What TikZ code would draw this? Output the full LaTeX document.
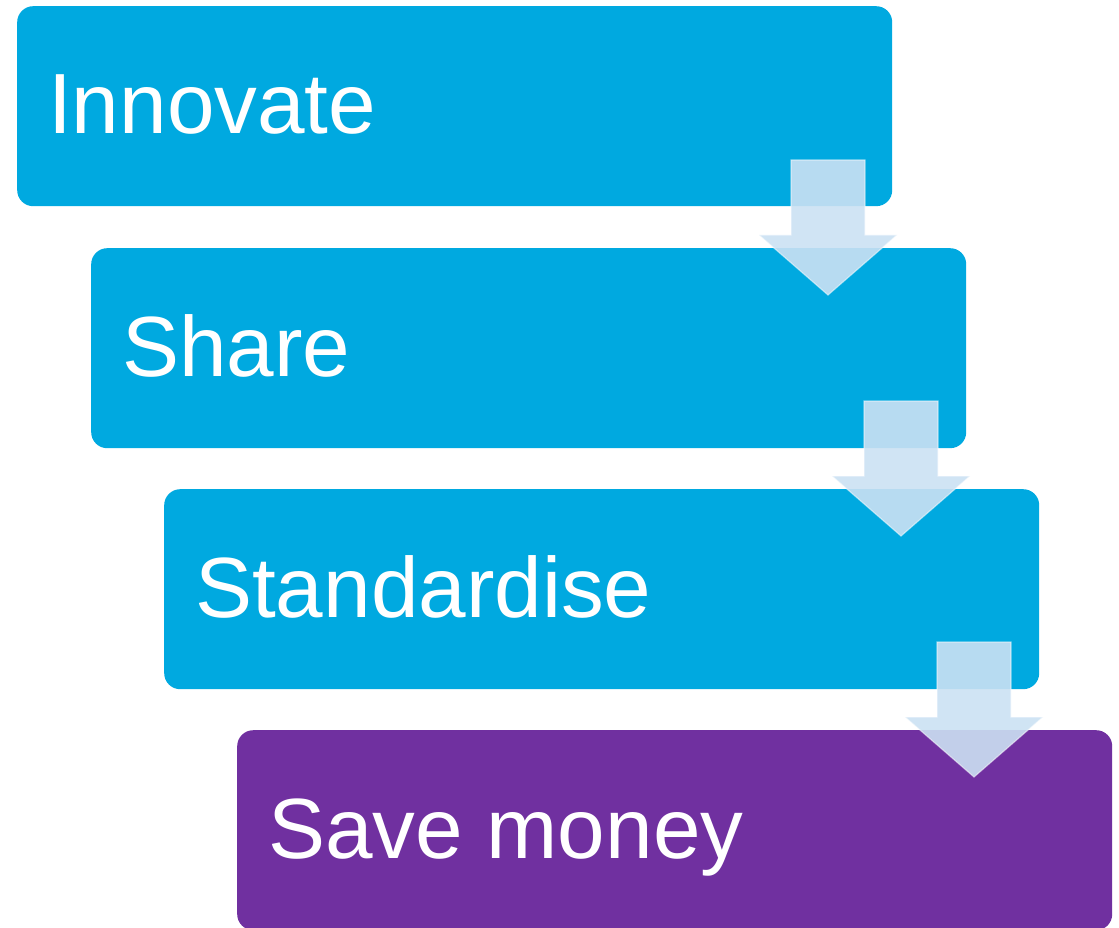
\documentclass[tikz,border=0pt]{standalone}
\usepackage{fontspec}
\setmainfont{Liberation Sans}
\definecolor{stepblue}{HTML}{00A9E0}
\definecolor{steppurple}{HTML}{7030A0}
\definecolor{arrowfill}{HTML}{CBE1F3}
\begin{document}
\begin{tikzpicture}[x=1pt,y=-1pt,
  stepbox/.style={rounded corners=16pt, minimum width=875pt, minimum height=200pt,
    inner sep=0pt, anchor=north west, draw=none},
  lbl/.style={text=white, font=\fontsize{85.5}{100}\selectfont, inner sep=0pt, anchor=base west},
  downarrow/.style={fill=arrowfill, fill opacity=0.9, draw=white, draw opacity=0.5, line width=1.2pt, line join=miter}
]
\useasboundingbox (0,0) rectangle (1119,928);
\node[stepbox, fill=stepblue] (b1) at (17,6) {};
\node[stepbox, fill=stepblue] (b2) at (91,248) {};
\node[stepbox, fill=stepblue] (b3) at (164,489) {};
\node[stepbox, fill=steppurple] (b4) at (237,730) {};

\node[lbl] (t1) at ([shift={(31pt,-128pt)}]b1.north west) {Innovate};
\node[lbl] (t2) at ([shift={(31pt,-128pt)}]b2.north west) {Share};
\node[lbl] (t3) at ([shift={(31pt,-128pt)}]b3.north west) {Standardise};
\node[lbl] (t4) at ([shift={(31pt,-128pt)}]b4.north west) {Save money};

\foreach \dx/\dy in {0/0, 73/241, 146/482} {
  \draw[downarrow] (791+\dx,160+\dy) -- (865+\dx,160+\dy) -- (865+\dx,235+\dy) -- (897+\dx,235+\dy)
    -- (828+\dx,295+\dy) -- (759+\dx,235+\dy) -- (791+\dx,235+\dy) -- cycle;
}
\end{tikzpicture}
\end{document}
